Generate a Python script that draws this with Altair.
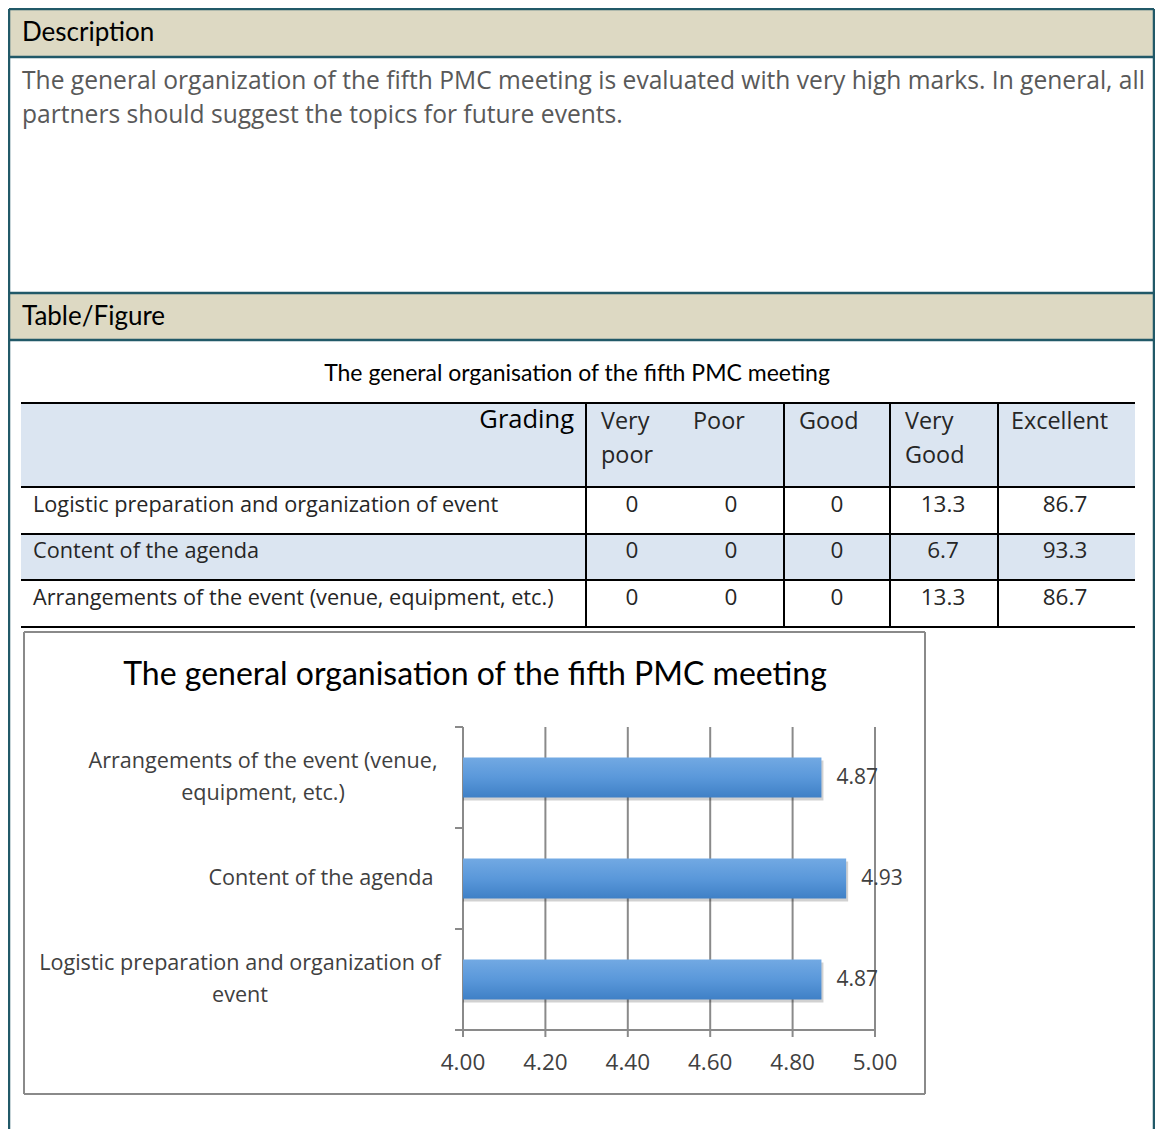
import altair as alt
import pandas as pd

# ---------------- data ----------------
desc_heading = "Description"
desc_lines = [
    "The general organization of the fifth PMC meeting is evaluated with very high marks. In general, all",
    "partners should suggest the topics for future events.",
]
fig_heading = "Table/Figure"
table_title = "The general organisation of the fifth PMC meeting"
grading_label = "Grading"
grade_headers = [["Very", "poor"], ["Poor"], ["Good"], ["Very", "Good"], ["Excellent"]]
items = [
    "Logistic preparation and organization of event",
    "Content of the agenda",
    "Arrangements of the event (venue, equipment, etc.)",
]
very_poor = [0, 0, 0]
poor = [0, 0, 0]
good = [0, 0, 0]
very_good = [13.3, 6.7, 13.3]
excellent = [86.7, 93.3, 86.7]

chart_title = "The general organisation of the fifth PMC meeting"
chart_categories = [
    "Arrangements of the event (venue, equipment, etc.)",
    "Content of the agenda",
    "Logistic preparation and organization of event",
]
chart_label_lines = [
    ["Arrangements of the event (venue,", "equipment, etc.)"],
    ["Content of the agenda"],
    ["Logistic preparation and organization of", "event"],
]
mean_scores = [4.87, 4.93, 4.87]
x_ticks = [4.0, 4.2, 4.4, 4.6, 4.8, 5.0]
x_min, x_max = 4.0, 5.0

# ---------------- layout (page pixel coords) ----------------
OFF = 8
W, H = 1147, 1121
FONT = "Open Sans"
HFONT = "Lato"
TEAL = "#215968"
BEIGE = "#ddd9c3"
LBLUE = "#dbe5f1"
GRAY = "#8a8a8a"
RIGHT = OFF + W - 1

def p(v):
    return v - OFF

fills = [
    (8, RIGHT, 9, 57, BEIGE),
    (8, RIGHT, 293, 340, BEIGE),
    (21, 1135, 403, 487, LBLUE),
    (21, 1135, 534, 580, LBLUE),
]
rules = [
    (9, RIGHT, 9, 9, TEAL, 2.5),
    (9, 9, 9, 1140, TEAL, 2.5),
    (RIGHT, RIGHT, 9, 1140, TEAL, 2.5),
    (9, RIGHT, 57, 57, TEAL, 2.5),
    (9, RIGHT, 293, 293, TEAL, 2.5),
    (9, RIGHT, 340, 340, TEAL, 2.5),
]
for yy in [403, 487, 534, 580, 627]:
    rules.append((21, 1135, yy, yy, "#000000", 2))
for xx in [586, 784, 890, 998]:
    rules.append((xx, xx, 403, 627, "#000000", 2))
rules += [
    (24, 925, 632, 632, GRAY, 2),
    (24, 925, 1094, 1094, GRAY, 2),
    (24, 24, 632, 1094, GRAY, 2),
    (925, 925, 632, 1094, GRAY, 2),
]
for yy in [727, 828, 929, 1030]:
    rules.append((455, 463, yy, yy, GRAY, 2))

texts = []  # x, y, text, align, size, color, font
texts.append((22, 33, desc_heading, "left", 26, "#000000", HFONT))
texts.append((22, 82, desc_lines[0], "left", 24.6, "#595959", FONT))
texts.append((22, 116, desc_lines[1], "left", 24.6, "#595959", FONT))
texts.append((22, 317, fig_heading, "left", 26, "#000000", HFONT))
texts.append((577, 374, table_title, "center", 23, "#000000", HFONT))
texts.append((574, 420, grading_label, "right", 25.5, "#000000", FONT))
header_x = [601, 693, 799, 905, 1011]
for hx, lines in zip(header_x, grade_headers):
    for i, ln in enumerate(lines):
        texts.append((hx, 421.5 + 34 * i, ln, "left", 23.4, "#262626", FONT))
row_y = [504.5, 550.5, 597.5]
col_cx = [632, 731, 837, 943, 1065]
cols = [very_poor, poor, good, very_good, excellent]
for r, (ry, item) in enumerate(zip(row_y, items)):
    texts.append((33, ry, item, "left", 21.7, "#262626", FONT))
    for cx, col in zip(col_cx, cols):
        texts.append((cx, ry, str(col[r]), "center", 22.5, "#262626", FONT))
texts.append((475, 675, chart_title, "center", 32, "#000000", HFONT))

bar_x_range = [p(463), p(875)]
bar_y_range = [p(727), p(1030)]
axis_y = p(1030)
label_cx = [263, 321, 240]
LINE_GAP = 32

# ---------------- build ----------------
px = dict(scale=None)

fill_df = pd.DataFrame(fills, columns=["x", "x2", "y", "y2", "c"]).assign(
    x=lambda d: d.x - OFF, x2=lambda d: d.x2 - OFF, y=lambda d: d.y - OFF, y2=lambda d: d.y2 - OFF)
fill_layer = alt.Chart(fill_df).mark_rect().encode(
    x=alt.X("x:Q", **px), x2="x2", y=alt.Y("y:Q", **px), y2="y2",
    color=alt.Color("c:N", **px))

rule_df = pd.DataFrame(rules, columns=["x", "x2", "y", "y2", "c", "w"]).assign(
    x=lambda d: d.x - OFF, x2=lambda d: d.x2 - OFF, y=lambda d: d.y - OFF, y2=lambda d: d.y2 - OFF)
rule_layer = alt.Chart(rule_df).mark_rule().encode(
    x=alt.X("x:Q", **px), x2="x2", y=alt.Y("y:Q", **px), y2="y2",
    color=alt.Color("c:N", **px), strokeWidth=alt.StrokeWidth("w:Q", **px))

text_df = pd.DataFrame(texts, columns=["x", "y", "t", "a", "s", "c", "f"]).assign(
    x=lambda d: d.x - OFF, y=lambda d: d.y - OFF)
text_layers = []
for a in ["left", "center", "right"]:
    for f in [FONT, HFONT]:
        sub = text_df[(text_df.a == a) & (text_df.f == f)]
        if len(sub) == 0:
            continue
        text_layers.append(
            alt.Chart(sub).mark_text(align=a, baseline="middle", font=f).encode(
                x=alt.X("x:Q", **px), y=alt.Y("y:Q", **px), text="t:N",
                size=alt.Size("s:Q", **px), color=alt.Color("c:N", **px)))

bar_df = pd.DataFrame({"cat": chart_categories, "score": mean_scores, "base": x_min})
tick_df = pd.DataFrame({"v": x_ticks, "lab": [f"{v:.2f}" for v in x_ticks]})
xs = alt.Scale(domain=[x_min, x_max], range=bar_x_range, zero=False, nice=False)
ys = alt.Scale(domain=chart_categories, range=bar_y_range, paddingInner=0, paddingOuter=0)

grid = alt.Chart(tick_df).mark_rule(color=GRAY, strokeWidth=2).encode(
    x=alt.X("v:Q", scale=xs, axis=None),
    y=alt.value(bar_y_range[0]), y2=alt.value(bar_y_range[1]))
xticks = alt.Chart(tick_df).mark_rule(color=GRAY, strokeWidth=2).encode(
    x=alt.X("v:Q", scale=xs, axis=None),
    y=alt.value(axis_y), y2=alt.value(axis_y + 7))
xdomain = alt.Chart(tick_df).mark_rule(color=GRAY, strokeWidth=2).encode(
    x=alt.X("min(v):Q", scale=xs, axis=None), x2="max(v):Q",
    y=alt.value(axis_y))
xlabels = alt.Chart(tick_df).mark_text(align="center", baseline="middle", font=FONT,
                                       fontSize=22.5, color="#404040").encode(
    x=alt.X("v:Q", scale=xs, axis=None), y=alt.value(axis_y + 33), text="lab:N")

grad = alt.Gradient(gradient="linear",
                    stops=[alt.GradientStop(color="#72a9e3", offset=0),
                           alt.GradientStop(color="#5a98da", offset=0.5),
                           alt.GradientStop(color="#3f80c6", offset=1)],
                    x1=0, x2=0, y1=0, y2=1)
shadow = alt.Chart(bar_df).mark_bar(size=40, color="#000000", opacity=0.18, xOffset=2, yOffset=3).encode(
    x=alt.X("score:Q", scale=xs, axis=None), x2="base",
    y=alt.Y("cat:N", scale=ys, axis=None, sort=chart_categories))
bars = alt.Chart(bar_df).mark_bar(size=40, color=grad).encode(
    x=alt.X("score:Q", scale=xs, axis=None), x2="base",
    y=alt.Y("cat:N", scale=ys, axis=None, sort=chart_categories))
vals = alt.Chart(bar_df).mark_text(align="left", baseline="middle", dx=15, font=FONT,
                                   fontSize=21, color="#404040").encode(
    x=alt.X("score:Q", scale=xs, axis=None),
    y=alt.Y("cat:N", scale=ys, axis=None, sort=chart_categories),
    text=alt.Text("score:Q", format=".2f"))
bar_chart = alt.layer(grid, xdomain, xticks, xlabels, shadow, bars, vals)

lab_rows = []
for cat, lines, cx in zip(chart_categories, chart_label_lines, label_cx):
    n = len(lines)
    for i, ln in enumerate(lines):
        lab_rows.append({"cat": cat, "lab": ln, "x": cx - OFF,
                         "dy": int((i - (n - 1) / 2) * LINE_GAP)})
lab_df = pd.DataFrame(lab_rows)
label_layers = []
for dy in sorted(lab_df.dy.unique()):
    label_layers.append(
        alt.Chart(lab_df[lab_df.dy == dy]).mark_text(
            align="center", baseline="middle", dy=int(dy), font=FONT, fontSize=21.6,
            color="#404040").encode(
            x=alt.X("x:Q", **px),
            y=alt.Y("cat:N", scale=ys, axis=None, sort=chart_categories),
            text="lab:N"))
labels = alt.layer(*label_layers)

chart = alt.layer(fill_layer, rule_layer, *text_layers, bar_chart, labels).resolve_scale(
    x="independent", y="independent", color="independent", size="independent",
    strokeWidth="independent").properties(
    width=W, height=H, autosize=alt.AutoSizeParams(type="none"), padding=0,
    background="white").configure_view(stroke=None)

chart.save("out.html", embed_options={"renderer": "svg", "actions": False})
